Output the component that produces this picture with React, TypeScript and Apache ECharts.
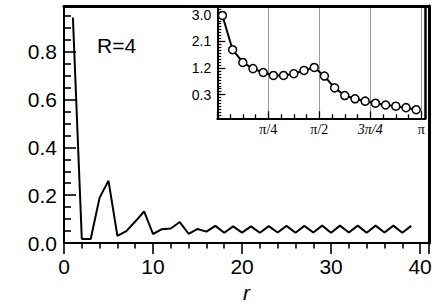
import React, { useEffect, useRef } from 'react';
import * as echarts from 'echarts';

// Main curve: r = 1..39
const rValues = [1, 2, 3, 4, 5, 6, 7, 8, 9, 10, 11, 12, 13, 14, 15, 16, 17, 18, 19, 20,
  21, 22, 23, 24, 25, 26, 27, 28, 29, 30, 31, 32, 33, 34, 35, 36, 37, 38, 39];
const mainValues = [0.942, 0.017, 0.017, 0.19, 0.26, 0.03, 0.05, 0.09, 0.132, 0.038,
  0.058, 0.061, 0.088, 0.039, 0.059, 0.048, 0.072, 0.043, 0.07, 0.044,
  0.07, 0.043, 0.071, 0.044, 0.072, 0.043, 0.072, 0.044, 0.073, 0.043,
  0.073, 0.044, 0.073, 0.043, 0.073, 0.044, 0.073, 0.043, 0.072];

// Inset curve: angle (in units of pi) and value
const insetThetaOverPi = [0.025, 0.075, 0.125, 0.175, 0.225, 0.275, 0.325, 0.375, 0.425, 0.475,
  0.525, 0.575, 0.625, 0.675, 0.725, 0.775, 0.825, 0.875, 0.925, 0.975];
const insetValues = [2.98, 1.82, 1.39, 1.18, 1.05, 0.95, 0.95, 1.01, 1.12, 1.22,
  0.93, 0.53, 0.27, 0.16, 0.08, 0.01, -0.05, -0.09, -0.14, -0.21];

const mainYLabels = [0, 0.2, 0.4, 0.6, 0.8];
const insetYLabels = [0.3, 1.2, 2.1, 3.0];
const insetXLabels = ['', '{u|π/4}', '{u|π/2}', '{i|3π/4}', '{u|π}'];

const SANS = '"Liberation Sans", Arial, Helvetica, sans-serif';
const SERIF = '"Liberation Serif", "Times New Roman", serif';

export default function App() {
  const ref = useRef<HTMLDivElement>(null);
  useEffect(() => {
    const chart = echarts.init(ref.current!, null, { renderer: 'svg' });
    const black = '#000';
    const frameAxisX = (grid: number, w: number) => ({
      type: 'value', gridIndex: grid, position: 'top', min: 0, max: 1,
      axisLine: { show: true, onZero: false, lineStyle: { color: black, width: w } },
      axisTick: { show: false }, axisLabel: { show: false }, splitLine: { show: false },
    });
    const frameAxisY = (grid: number, w: number) => ({
      type: 'value', gridIndex: grid, position: 'right', min: 0, max: 1,
      axisLine: { show: true, onZero: false, lineStyle: { color: black, width: w } },
      axisTick: { show: false }, axisLabel: { show: false }, splitLine: { show: false },
    });
    chart.setOption({
      animation: false,
      backgroundColor: '#fff',
      grid: [
        { left: 64, top: 6, width: 365, height: 237.3, show: false },
        { left: 217.3, top: 6, width: 208, height: 112.3, show: true, backgroundColor: '#fff', borderWidth: 0 },
      ],
      xAxis: [
        {
          type: 'value', gridIndex: 0, position: 'bottom', min: 0, max: 41, interval: 10,
          axisLine: { onZero: false, lineStyle: { color: black, width: 2 } },
          axisTick: { inside: false, length: 11, lineStyle: { color: black, width: 1.6 } },
          minorTick: { show: true, splitNumber: 5, length: 5.5, lineStyle: { color: black, width: 1.6 } },
          axisLabel: {
            color: black, fontSize: 21, fontFamily: SANS, margin: 13,
            formatter: (v: number) => (Math.abs(v % 10) < 1e-6 ? String(v) : ''),
          },
          splitLine: { show: false },
          name: 'r', nameLocation: 'middle', nameGap: 37,
          nameTextStyle: { color: black, fontSize: 21, fontStyle: 'italic', fontFamily: SANS },
        },
        frameAxisX(0, 3),
        {
          type: 'value', gridIndex: 1, position: 'bottom', min: 0, max: 1.0196 * Math.PI, interval: Math.PI / 4,
          axisLine: { onZero: false, lineStyle: { color: black, width: 2 } },
          axisTick: { inside: true, length: 7, lineStyle: { color: black, width: 1.3 } },
          minorTick: { show: true, splitNumber: 4, length: 4, lineStyle: { color: black, width: 1.3 } },
          axisLabel: {
            margin: 4,
            formatter: (v: number) => {
              const q = v / (Math.PI / 4);
              const k = Math.round(q);
              return Math.abs(q - k) < 1e-3 ? insetXLabels[k] ?? '' : '';
            },
            rich: {
              u: { fontFamily: SERIF, fontSize: 14, color: black },
              i: { fontFamily: SERIF, fontSize: 14, fontStyle: 'italic', color: black },
            },
          },
          splitLine: { show: true, lineStyle: { color: '#9a9a9a', width: 1 } },
        },
        frameAxisX(1, 2.5),
      ],
      yAxis: [
        {
          type: 'value', gridIndex: 0, position: 'left', min: 0, max: 0.99, interval: 0.2,
          axisLine: { onZero: false, lineStyle: { color: black, width: 2 } },
          axisTick: { inside: true, length: 12, lineStyle: { color: black, width: 1.6 } },
          minorTick: { show: true, splitNumber: 4, length: 7, lineStyle: { color: black, width: 1.6 } },
          axisLabel: {
            color: black, fontSize: 21, fontFamily: SANS, margin: 7,
            formatter: (v: number) => (mainYLabels.some((m) => Math.abs(m - v) < 1e-6) ? v.toFixed(1) : ''),
          },
          splitLine: { show: false },
        },
        frameAxisY(0, 3),
        {
          type: 'value', gridIndex: 1, position: 'left', min: -0.5, max: 3.3, interval: 0.1,
          axisLine: { onZero: false, lineStyle: { color: black, width: 2 } },
          axisTick: { inside: true, length: 4, lineStyle: { color: black, width: 1.2 } },
          axisLabel: { show: false },
          splitLine: { show: false },
        },
        {
          type: 'value', gridIndex: 1, position: 'left', min: -0.5, max: 3.3,
          axisLine: { show: false, onZero: false },
          axisTick: { show: true, inside: true, length: 8, customValues: insetYLabels, lineStyle: { color: black, width: 1.3 } },
          axisLabel: {
            show: true, customValues: insetYLabels, color: black, fontSize: 14, fontFamily: SANS, margin: 6,
            formatter: (v: number) => v.toFixed(1),
          },
          splitLine: { show: false },
        },
        frameAxisY(1, 2.5),
      ],
      graphic: [
        {
          type: 'text', x: 97, y: 45.5,
          style: { text: 'R=4', font: `21px ${SANS}`, fill: black, textVerticalAlign: 'middle' },
        },
      ],
      series: [
        {
          type: 'line', xAxisIndex: 0, yAxisIndex: 0,
          data: rValues.map((r, i) => [r, mainValues[i]]),
          showSymbol: false, symbol: 'none',
          lineStyle: { color: black, width: 2 },
        },
        {
          type: 'line', xAxisIndex: 2, yAxisIndex: 2,
          data: insetThetaOverPi.map((t, i) => [t * Math.PI, insetValues[i]]),
          symbol: 'circle', symbolSize: 8,
          itemStyle: { color: '#fff', borderColor: black, borderWidth: 1.5 },
          lineStyle: { color: black, width: 2 },
          z: 10,
        },
      ],
    });
    return () => chart.dispose();
  }, []);
  return <div ref={ref} style={{ position: 'absolute', left: 0, top: 0, width: 436, height: 308 }} />;
}
